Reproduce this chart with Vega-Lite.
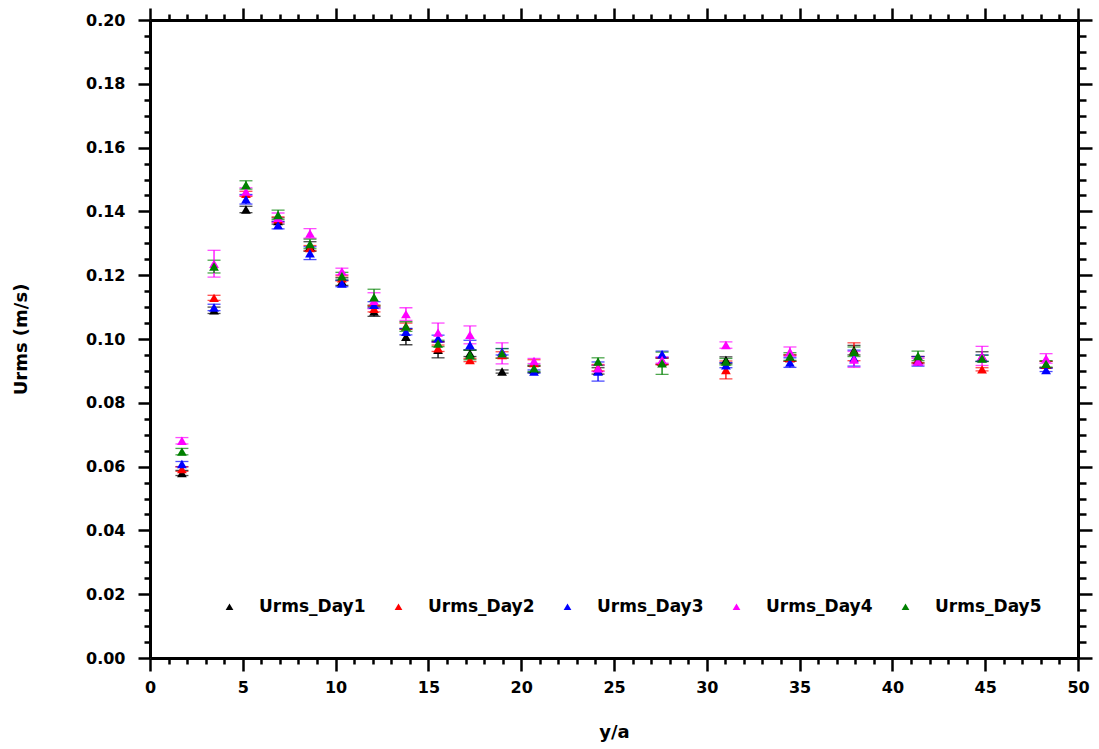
{
  "$schema": "https://vega.github.io/schema/vega-lite/v6.json",
  "width": 928,
  "height": 638,
  "autosize": {"type": "none"},
  "padding": {"left": 150, "top": 20, "right": 21, "bottom": 91},
  "background": "white",
  "config": {
    "view": {"stroke": null},
    "font": "DejaVu Sans",
    "axis": {"grid": false, "domainColor": "black", "domainWidth": 3, "tickColor": "black", "tickWidth": 2.5, "labelColor": "black", "titleColor": "black", "labelFont": "DejaVu Sans", "titleFont": "DejaVu Sans", "labelFontWeight": "bold", "titleFontWeight": "bold", "labelFontSize": 16, "titleFontSize": 18}
  },
  "data": {"values": [
    {"x":1.72,"y":0.0580,"err":0.0008,"series":"Urms_Day1"},
    {"x":3.45,"y":0.1090,"err":0.0010,"series":"Urms_Day1"},
    {"x":5.17,"y":0.1406,"err":0.0010,"series":"Urms_Day1"},
    {"x":6.90,"y":0.1370,"err":0.0010,"series":"Urms_Day1"},
    {"x":8.62,"y":0.1290,"err":0.0015,"series":"Urms_Day1"},
    {"x":10.34,"y":0.1180,"err":0.0012,"series":"Urms_Day1"},
    {"x":12.07,"y":0.1086,"err":0.0015,"series":"Urms_Day1"},
    {"x":13.79,"y":0.1007,"err":0.0025,"series":"Urms_Day1"},
    {"x":15.52,"y":0.0966,"err":0.0025,"series":"Urms_Day1"},
    {"x":17.24,"y":0.0955,"err":0.0010,"series":"Urms_Day1"},
    {"x":18.97,"y":0.0898,"err":0.0005,"series":"Urms_Day1"},
    {"x":20.69,"y":0.0905,"err":0.0010,"series":"Urms_Day1"},
    {"x":24.14,"y":0.0900,"err":0.0010,"series":"Urms_Day1"},
    {"x":27.59,"y":0.0930,"err":0.0010,"series":"Urms_Day1"},
    {"x":31.03,"y":0.0934,"err":0.0010,"series":"Urms_Day1"},
    {"x":34.48,"y":0.0940,"err":0.0010,"series":"Urms_Day1"},
    {"x":37.93,"y":0.0965,"err":0.0015,"series":"Urms_Day1"},
    {"x":41.38,"y":0.0935,"err":0.0010,"series":"Urms_Day1"},
    {"x":44.83,"y":0.0945,"err":0.0015,"series":"Urms_Day1"},
    {"x":48.28,"y":0.0920,"err":0.0010,"series":"Urms_Day1"},
    {"x":1.72,"y":0.0592,"err":0.0007,"series":"Urms_Day2"},
    {"x":3.45,"y":0.1129,"err":0.0008,"series":"Urms_Day2"},
    {"x":5.17,"y":0.1455,"err":0.0008,"series":"Urms_Day2"},
    {"x":6.90,"y":0.1375,"err":0.0008,"series":"Urms_Day2"},
    {"x":8.62,"y":0.1285,"err":0.0008,"series":"Urms_Day2"},
    {"x":10.34,"y":0.1190,"err":0.0008,"series":"Urms_Day2"},
    {"x":12.07,"y":0.1095,"err":0.0010,"series":"Urms_Day2"},
    {"x":13.79,"y":0.1040,"err":0.0010,"series":"Urms_Day2"},
    {"x":15.52,"y":0.0971,"err":0.0010,"series":"Urms_Day2"},
    {"x":17.24,"y":0.0934,"err":0.0005,"series":"Urms_Day2"},
    {"x":18.97,"y":0.0950,"err":0.0010,"series":"Urms_Day2"},
    {"x":20.69,"y":0.0925,"err":0.0010,"series":"Urms_Day2"},
    {"x":24.14,"y":0.0910,"err":0.0010,"series":"Urms_Day2"},
    {"x":27.59,"y":0.0930,"err":0.0010,"series":"Urms_Day2"},
    {"x":31.03,"y":0.0903,"err":0.0028,"series":"Urms_Day2"},
    {"x":34.48,"y":0.0940,"err":0.0010,"series":"Urms_Day2"},
    {"x":37.93,"y":0.0960,"err":0.0028,"series":"Urms_Day2"},
    {"x":41.38,"y":0.0935,"err":0.0010,"series":"Urms_Day2"},
    {"x":44.83,"y":0.0905,"err":0.0005,"series":"Urms_Day2"},
    {"x":48.28,"y":0.0920,"err":0.0010,"series":"Urms_Day2"},
    {"x":1.72,"y":0.0608,"err":0.0008,"series":"Urms_Day3"},
    {"x":3.45,"y":0.1099,"err":0.0010,"series":"Urms_Day3"},
    {"x":5.17,"y":0.1438,"err":0.0015,"series":"Urms_Day3"},
    {"x":6.90,"y":0.1357,"err":0.0012,"series":"Urms_Day3"},
    {"x":8.62,"y":0.1269,"err":0.0020,"series":"Urms_Day3"},
    {"x":10.34,"y":0.1174,"err":0.0010,"series":"Urms_Day3"},
    {"x":12.07,"y":0.1107,"err":0.0010,"series":"Urms_Day3"},
    {"x":13.79,"y":0.1023,"err":0.0010,"series":"Urms_Day3"},
    {"x":15.52,"y":0.1002,"err":0.0010,"series":"Urms_Day3"},
    {"x":17.24,"y":0.0981,"err":0.0015,"series":"Urms_Day3"},
    {"x":18.97,"y":0.0960,"err":0.0010,"series":"Urms_Day3"},
    {"x":20.69,"y":0.0898,"err":0.0005,"series":"Urms_Day3"},
    {"x":24.14,"y":0.0898,"err":0.0030,"series":"Urms_Day3"},
    {"x":27.59,"y":0.0952,"err":0.0010,"series":"Urms_Day3"},
    {"x":31.03,"y":0.0918,"err":0.0008,"series":"Urms_Day3"},
    {"x":34.48,"y":0.0926,"err":0.0015,"series":"Urms_Day3"},
    {"x":37.93,"y":0.0940,"err":0.0025,"series":"Urms_Day3"},
    {"x":41.38,"y":0.0930,"err":0.0015,"series":"Urms_Day3"},
    {"x":44.83,"y":0.0940,"err":0.0010,"series":"Urms_Day3"},
    {"x":48.28,"y":0.0903,"err":0.0005,"series":"Urms_Day3"},
    {"x":1.72,"y":0.0681,"err":0.0010,"series":"Urms_Day4"},
    {"x":3.45,"y":0.1236,"err":0.0042,"series":"Urms_Day4"},
    {"x":5.17,"y":0.1462,"err":0.0012,"series":"Urms_Day4"},
    {"x":6.90,"y":0.1380,"err":0.0015,"series":"Urms_Day4"},
    {"x":8.62,"y":0.1331,"err":0.0015,"series":"Urms_Day4"},
    {"x":10.34,"y":0.1212,"err":0.0010,"series":"Urms_Day4"},
    {"x":12.07,"y":0.1120,"err":0.0025,"series":"Urms_Day4"},
    {"x":13.79,"y":0.1078,"err":0.0020,"series":"Urms_Day4"},
    {"x":15.52,"y":0.1020,"err":0.0030,"series":"Urms_Day4"},
    {"x":17.24,"y":0.1013,"err":0.0028,"series":"Urms_Day4"},
    {"x":18.97,"y":0.0955,"err":0.0033,"series":"Urms_Day4"},
    {"x":20.69,"y":0.0931,"err":0.0008,"series":"Urms_Day4"},
    {"x":24.14,"y":0.0908,"err":0.0010,"series":"Urms_Day4"},
    {"x":27.59,"y":0.0934,"err":0.0010,"series":"Urms_Day4"},
    {"x":31.03,"y":0.0981,"err":0.0010,"series":"Urms_Day4"},
    {"x":34.48,"y":0.0960,"err":0.0015,"series":"Urms_Day4"},
    {"x":37.93,"y":0.0936,"err":0.0025,"series":"Urms_Day4"},
    {"x":41.38,"y":0.0929,"err":0.0010,"series":"Urms_Day4"},
    {"x":44.83,"y":0.0947,"err":0.0030,"series":"Urms_Day4"},
    {"x":48.28,"y":0.0939,"err":0.0015,"series":"Urms_Day4"},
    {"x":1.72,"y":0.0647,"err":0.0010,"series":"Urms_Day5"},
    {"x":3.45,"y":0.1227,"err":0.0020,"series":"Urms_Day5"},
    {"x":5.17,"y":0.1483,"err":0.0013,"series":"Urms_Day5"},
    {"x":6.90,"y":0.1389,"err":0.0015,"series":"Urms_Day5"},
    {"x":8.62,"y":0.1298,"err":0.0015,"series":"Urms_Day5"},
    {"x":10.34,"y":0.1197,"err":0.0012,"series":"Urms_Day5"},
    {"x":12.07,"y":0.1131,"err":0.0025,"series":"Urms_Day5"},
    {"x":13.79,"y":0.1039,"err":0.0015,"series":"Urms_Day5"},
    {"x":15.52,"y":0.0986,"err":0.0010,"series":"Urms_Day5"},
    {"x":17.24,"y":0.0950,"err":0.0015,"series":"Urms_Day5"},
    {"x":18.97,"y":0.0955,"err":0.0015,"series":"Urms_Day5"},
    {"x":20.69,"y":0.0908,"err":0.0010,"series":"Urms_Day5"},
    {"x":24.14,"y":0.0929,"err":0.0012,"series":"Urms_Day5"},
    {"x":27.59,"y":0.0924,"err":0.0035,"series":"Urms_Day5"},
    {"x":31.03,"y":0.0929,"err":0.0010,"series":"Urms_Day5"},
    {"x":34.48,"y":0.0945,"err":0.0012,"series":"Urms_Day5"},
    {"x":37.93,"y":0.0960,"err":0.0015,"series":"Urms_Day5"},
    {"x":41.38,"y":0.0947,"err":0.0015,"series":"Urms_Day5"},
    {"x":44.83,"y":0.0939,"err":0.0010,"series":"Urms_Day5"},
    {"x":48.28,"y":0.0922,"err":0.0010,"series":"Urms_Day5"}
  ]},
  "layer": [
    {
      "mark": {"type": "errorbar", "ticks": {"size": 13, "thickness": 1.3}, "rule": {"strokeWidth": 1.3}},
      "encoding": {
        "x": {"field": "x", "type": "quantitative", "scale": {"domain": [0, 50], "nice": false},
          "axis": {"orient": "bottom", "title": "y/a", "titlePadding": 28,
            "values": [0,1,2,3,4,5,6,7,8,9,10,11,12,13,14,15,16,17,18,19,20,21,22,23,24,25,26,27,28,29,30,31,32,33,34,35,36,37,38,39,40,41,42,43,44,45,46,47,48,49,50],
            "labelExpr": "datum.value % 5 === 0 ? datum.label : ''",
            "tickSize": {"condition": {"test": "datum.value % 5 === 0", "value": 13}, "value": 6},
            "labelPadding": 8, "labelFlush": false, "labelOverlap": false}},
        "y": {"field": "y", "type": "quantitative", "scale": {"domain": [0, 0.2], "nice": false, "zero": false},
          "axis": {"orient": "left", "title": "Urms (m/s)", "titlePadding": 55,
            "values": [0,0.005,0.01,0.015,0.02,0.025,0.03,0.035,0.04,0.045,0.05,0.055,0.06,0.065,0.07,0.075,0.08,0.085,0.09,0.095,0.1,0.105,0.11,0.115,0.12,0.125,0.13,0.135,0.14,0.145,0.15,0.155,0.16,0.165,0.17,0.175,0.18,0.185,0.19,0.195,0.2],
            "labelExpr": "round(datum.value*200) % 4 === 0 ? format(datum.value, '.2f') : ''",
            "tickSize": {"condition": {"test": "round(datum.value*200) % 4 === 0", "value": 12}, "value": 6},
            "labelPadding": 13, "labelFlush": false, "labelOverlap": false}},
        "yError": {"field": "err"},
        "color": {"field": "series", "type": "nominal", "legend": null,
          "scale": {"domain": ["Urms_Day1","Urms_Day2","Urms_Day3","Urms_Day4","Urms_Day5"], "range": ["#000000","#ff0000","#0000ff","#ff00ff","#008000"]}}
      }
    },
    {
      "mark": {"type": "point", "shape": "triangle-up", "filled": true, "size": 95, "opacity": 1},
      "encoding": {
        "x": {"field": "x", "type": "quantitative",
          "axis": {"orient": "top", "title": null, "labels": false,
            "values": [0,1,2,3,4,5,6,7,8,9,10,11,12,13,14,15,16,17,18,19,20,21,22,23,24,25,26,27,28,29,30,31,32,33,34,35,36,37,38,39,40,41,42,43,44,45,46,47,48,49,50],
            "tickSize": {"condition": {"test": "datum.value % 5 === 0", "value": 12}, "value": 6}}},
        "y": {"field": "y", "type": "quantitative",
          "axis": {"orient": "right", "title": null, "labels": false,
            "values": [0,0.005,0.01,0.015,0.02,0.025,0.03,0.035,0.04,0.045,0.05,0.055,0.06,0.065,0.07,0.075,0.08,0.085,0.09,0.095,0.1,0.105,0.11,0.115,0.12,0.125,0.13,0.135,0.14,0.145,0.15,0.155,0.16,0.165,0.17,0.175,0.18,0.185,0.19,0.195,0.2],
            "tickSize": {"condition": {"test": "round(datum.value*200) % 4 === 0", "value": 14}, "value": 8}}},
        "color": {"field": "series", "type": "nominal",
          "legend": {"orient": "none", "legendX": 71, "legendY": 578, "direction": "horizontal", "columns": 5, "title": null,
            "symbolType": "triangle-up", "symbolSize": 60, "symbolStrokeWidth": 0,
            "labelFont": "DejaVu Sans", "labelFontWeight": "bold", "labelFontSize": 17, "labelColor": "black",
            "labelOffset": 21, "columnPadding": 24, "gridAlign": "all", "labelLimit": 200}}
      }
    }
  ],
  "resolve": {"axis": {"x": "independent", "y": "independent"}, "legend": {"color": "independent"}}
}
